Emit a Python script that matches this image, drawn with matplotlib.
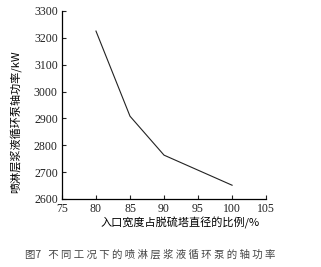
import matplotlib
matplotlib.use("Agg")
import matplotlib.pyplot as plt

plt.rcParams['font.family'] = ['Noto Sans CJK SC', 'DejaVu Sans']

# inlet width as share of tower diameter (%) vs. pump shaft power (kW)
ratio = [80, 85, 90, 100]
power = [3225, 2908, 2763, 2651]

xticks = [75, 80, 85, 90, 95, 100, 105]
yticks = [2600, 2700, 2800, 2900, 3000, 3100, 3200, 3300]

fig = plt.figure(figsize=(3.21, 2.67), dpi=100)
ax = fig.add_axes([0.193, 0.255, 0.636, 0.704])

ax.plot(ratio, power, '-', color='#222222', lw=0.8)

ax.set_xlim(75, 105)
ax.set_ylim(2600, 3300)
ax.set_xticks(xticks)
ax.set_yticks(yticks)
num_font = {'family': 'Liberation Serif', 'size': 8.5}
ax.set_xticklabels([str(t) for t in xticks], fontdict=num_font)
ax.set_yticklabels([str(t) for t in yticks], fontdict=num_font)
ax.tick_params(direction='in', length=3, width=0.8, colors='#222222')
ax.tick_params(axis='x', pad=3)
ax.tick_params(axis='y', pad=3)

ax.spines['top'].set_visible(False)
ax.spines['right'].set_visible(False)
ax.spines['left'].set_linewidth(0.9)
ax.spines['bottom'].set_linewidth(0.9)

ax.set_xlabel('入口宽度占脱硫塔直径的比例/%', fontsize=8)
ax.set_ylabel('喷淋层浆液循环泵轴功率/kW', fontsize=8)
ax.xaxis.set_label_coords(0.578, -0.095)
ax.yaxis.set_label_coords(-0.20, 0.41)

fig.text(0.467, 0.045, '图7   不 同 工 况 下 的 喷 淋 层 浆 液 循 环 泵 的 轴 功 率',
         ha='center', va='center', fontsize=7.5, color='#444444')

fig.savefig('out.png', dpi=100)
